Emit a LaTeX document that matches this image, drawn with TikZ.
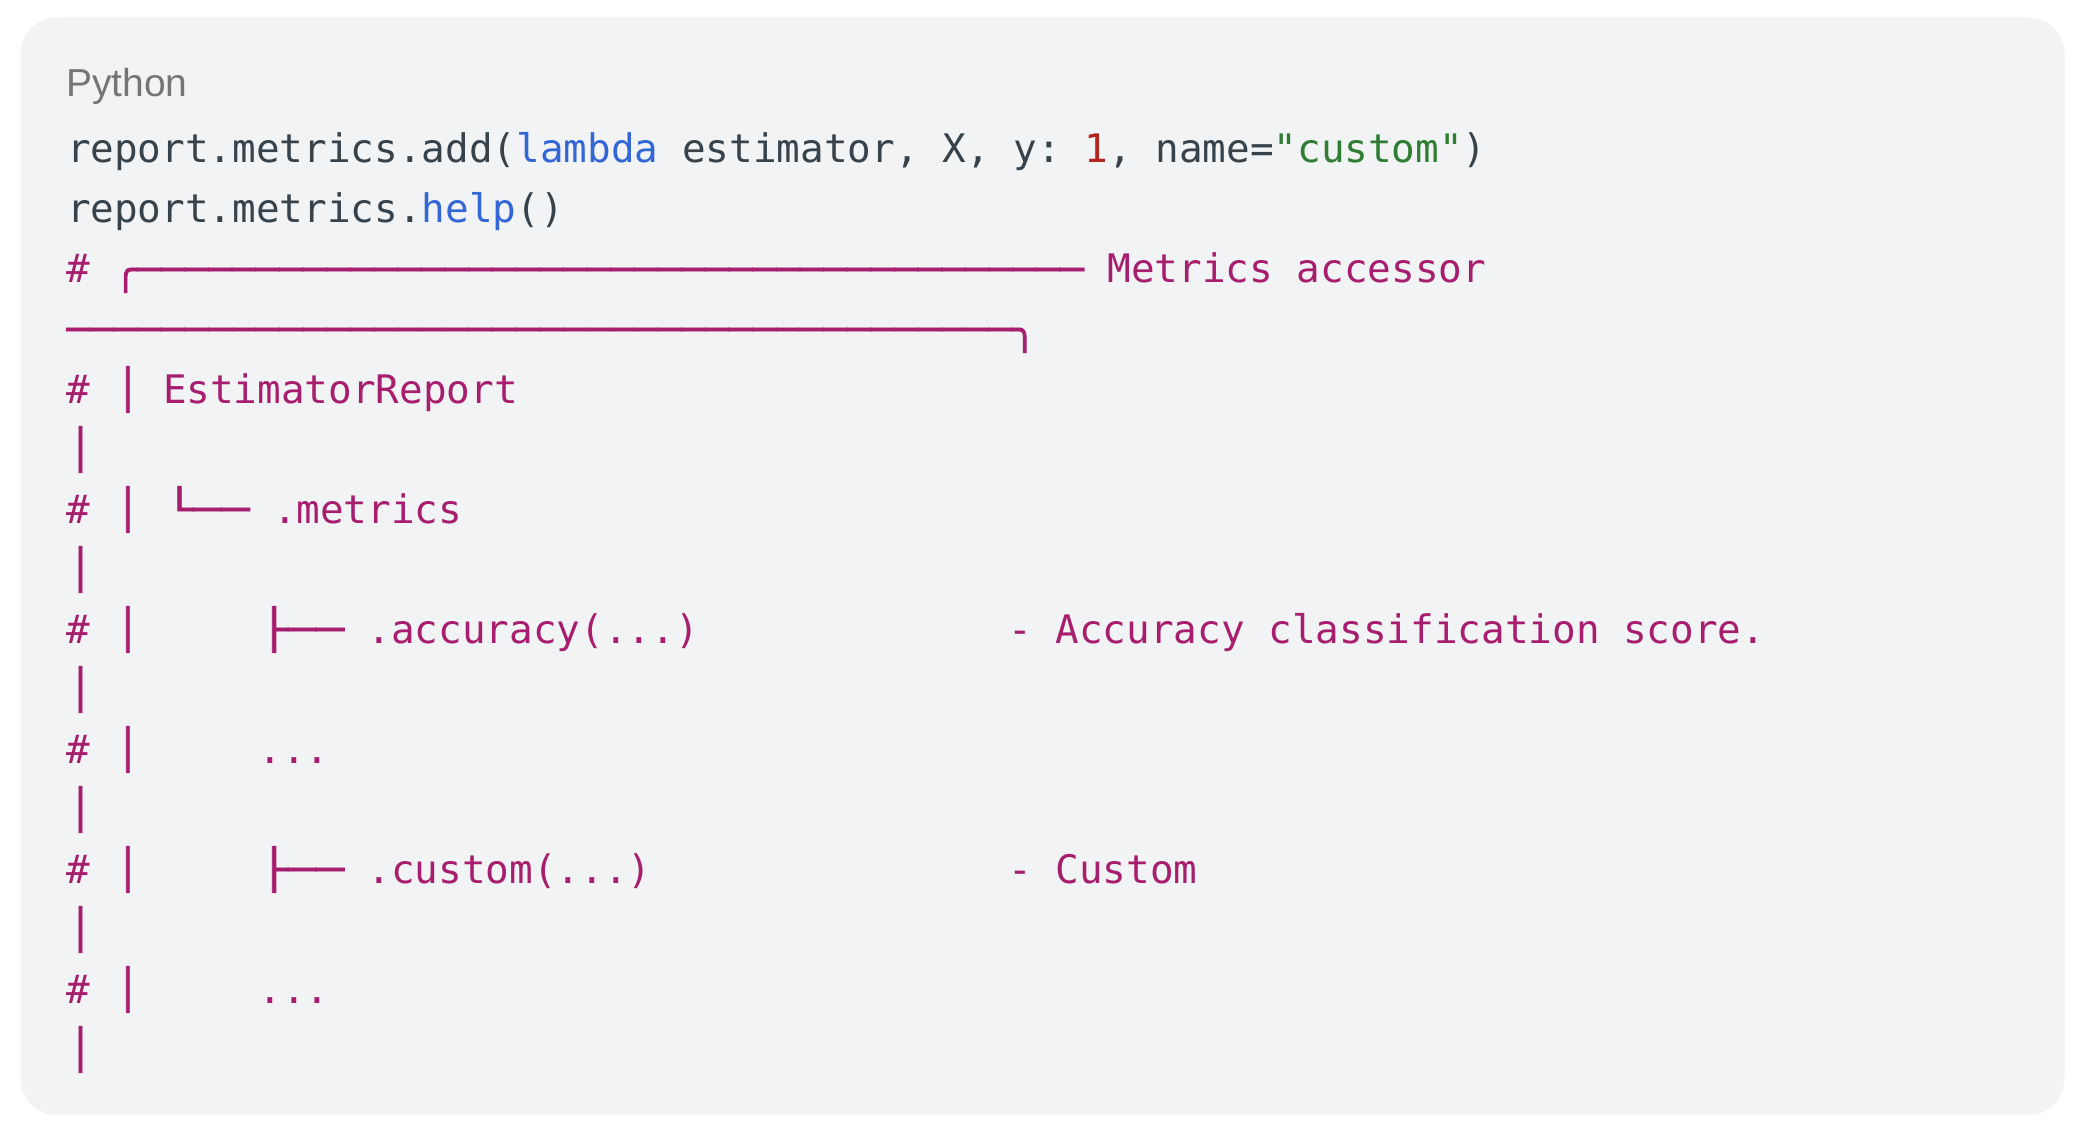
\documentclass[tikz,border=0pt]{standalone}
\usepackage{fontspec}
\usepackage{graphicx}
\setmainfont{Liberation Sans}
\newfontfamily\codefont{DejaVu Sans Mono}
\newfontfamily\boxfont{DejaVu Sans Mono}[FakeBold=1.6]
\definecolor{bgpanel}{HTML}{F1F3F4}
\definecolor{codedark}{HTML}{37424A}
\definecolor{kwblue}{HTML}{3367D6}
\definecolor{numred}{HTML}{B3261E}
\definecolor{strgreen}{HTML}{2E7D32}
\definecolor{cmtmag}{HTML}{A81E6E}
\definecolor{labelgray}{HTML}{757575}
\newcommand\dashten{──────────}
\newcommand\dashforty{\dashten\dashten\dashten\dashten}
\newcommand\tallbar{\makebox[14pt]{\boxfont│}}
\newcommand\widetree[1]{\scalebox{1.1834}[1]{\boxfont#1}}
\tikzset{
  code/.style={anchor=base west, inner sep=0pt, outer sep=0pt,
    font={\codefont\fontsize{19.65pt}{24pt}\selectfont\frenchspacing}, text=codedark},
  cmt/.style={code, text=cmtmag},
  lang/.style={anchor=base west, inner sep=0pt, outer sep=0pt,
    font={\fontsize{19.5pt}{24pt}\selectfont}, text=labelgray},
}
\begin{document}
\begin{tikzpicture}[x=0.5pt,y=-0.5pt]
\useasboundingbox (0,0) rectangle (2084,1134);
\fill[white] (0,0) rectangle (2084,1134);
\fill[bgpanel, rounded corners=18pt] (20.5,17.5) rectangle (2064.5,1115);
% header
\node[lang] (lang) at (66,97) {Python};
% code lines
\node[code] (c1) at (67,163) {report.metrics.add({\color{kwblue}lambda} estimator, X, y: {\color{numred}1}, name={\color{strgreen}"custom"})};
\node[code] (c2) at (67,223) {report.metrics.{\color{kwblue}help}()};
% line 3
\node[cmt] (h3) at (66.5,283) {\#};
\node[cmt] (top3) at (113.8,283) {\boxfont╭\dashforty};
\node[cmt] (title) at (1107.5,283) {Metrics accessor};
% line 4
\node[cmt] (top4) at (66.5,343) {\boxfont\dashforty╮};
% line 5
\node[cmt] (h5) at (66.5,403) {\#};
\node[cmt] (b5) at (113.8,403) {\tallbar};
\node[cmt] (est) at (163,403) {EstimatorReport};
% line 6
\node[cmt] (r6) at (66.5,463) {\tallbar};
% line 7
\node[cmt] (h7) at (66.5,523) {\#};
\node[cmt] (b7) at (113.8,523) {\tallbar};
\node[cmt] (t7) at (165.5,523) {\widetree{└──}};
\node[cmt] (met) at (273,523) {.metrics};
% line 8
\node[cmt] (r8) at (66.5,583) {\tallbar};
% line 9
\node[cmt] (h9) at (66.5,643) {\#};
\node[cmt] (b9) at (113.8,643) {\tallbar};
\node[cmt] (t9) at (260.1,643) {\widetree{├──}};
\node[cmt] (acc) at (367.5,643) {.accuracy(...)};
\node[cmt] (accd) at (1008.2,643) {- Accuracy classification score.};
% line 10
\node[cmt] (r10) at (66.5,703) {\tallbar};
% line 11
\node[cmt] (h11) at (66.5,763) {\#};
\node[cmt] (b11) at (113.8,763) {\tallbar};
\node[cmt] (e11) at (258.6,763) {...};
% line 12
\node[cmt] (r12) at (66.5,823) {\tallbar};
% line 13
\node[cmt] (h13) at (66.5,883) {\#};
\node[cmt] (b13) at (113.8,883) {\tallbar};
\node[cmt] (t13) at (260.1,883) {\widetree{├──}};
\node[cmt] (cus) at (367.5,883) {.custom(...)};
\node[cmt] (cusd) at (1008.2,883) {- Custom};
% line 14
\node[cmt] (r14) at (66.5,943) {\tallbar};
% line 15
\node[cmt] (h15) at (66.5,1003) {\#};
\node[cmt] (b15) at (113.8,1003) {\tallbar};
\node[cmt] (e15) at (258.6,1003) {...};
% line 16
\node[cmt] (r16) at (66.5,1063) {\tallbar};
\end{tikzpicture}
\end{document}
